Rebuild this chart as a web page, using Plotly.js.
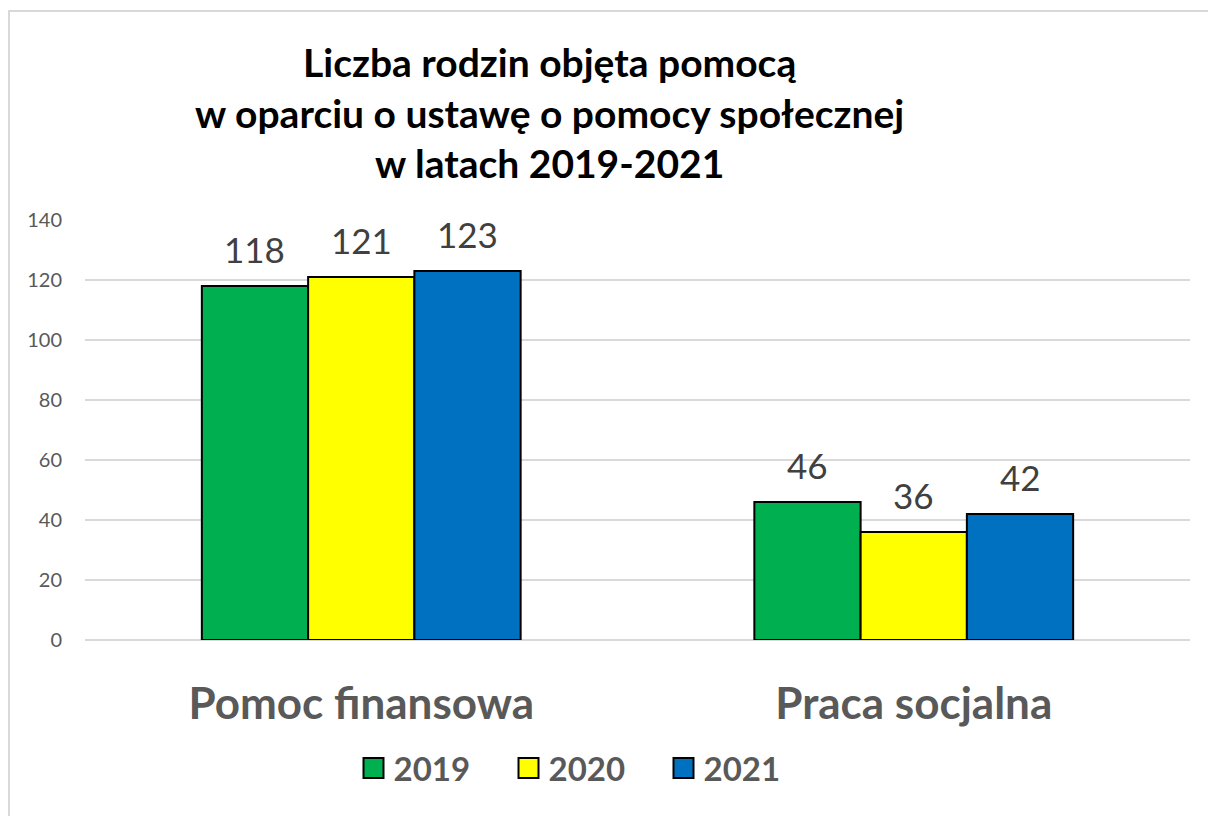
<!DOCTYPE html>
<html>
<head>
<meta charset="utf-8">
<script src="https://cdn.plot.ly/plotly-3.0.1.min.js"></script>
<style>
  html, body { margin: 0; padding: 0; background: #fff; overflow: hidden; }
  #wrap { position: relative; width: 1208px; height: 816px; overflow: hidden; }
  #chart { width: 1208px; height: 816px; }
  #frame { position: absolute; left: 8px; top: 10px; width: 1400px; height: 1000px;
           border: 2px solid #d9d9d9; pointer-events: none; box-sizing: border-box; }
</style>
</head>
<body>
<div id="wrap">
  <div id="chart"></div>
  <div id="frame"></div>
</div>
<script>
const categories = ["Pomoc finansowa", "Praca socjalna"];
const years = ["2019", "2020", "2021"];
const values2019 = [118, 46];
const values2020 = [121, 36];
const values2021 = [123, 42];
const colors = ["#00B050", "#FFFF00", "#0070C0"];
const yTicks = [0, 20, 40, 60, 80, 100, 120, 140];

const FONT = "Lato, 'Open Sans', sans-serif";
const series = [values2019, values2020, values2021];
const BARGAP = 0.423;

const traces = series.map((vals, i) => ({
  type: "bar",
  name: years[i],
  x: categories,
  y: vals,
  marker: { color: colors[i], line: { color: "#000000", width: 2 } },
  hoverinfo: "x+y+name"
}));

// value labels placed above each bar through the axis scales
const barW = (1 - BARGAP) / series.length;
const annotations = [];
series.forEach((vals, i) => {
  vals.forEach((v, j) => {
    annotations.push({
      x: j + (i - (series.length - 1) / 2) * barW,
      y: v,
      xref: "x",
      yref: "y",
      text: String(v),
      showarrow: false,
      xanchor: "center",
      yanchor: "bottom",
      yshift: 14,
      font: { family: FONT, size: 35, color: "#404040" }
    });
  });
});

const layout = {
  width: 1208,
  height: 816,
  paper_bgcolor: "#ffffff",
  plot_bgcolor: "#ffffff",
  margin: { l: 85, r: 18, t: 220, b: 176 },
  barmode: "group",
  bargap: BARGAP,
  bargroupgap: 0,
  annotations: annotations,
  title: {
    text: "<b>Liczba rodzin objęta pomocą<br>w oparciu o ustawę o pomocy społecznej<br>w latach 2019-2021</b>",
    font: { family: FONT, size: 39, color: "#000000" },
    x: 0.455,
    xanchor: "center",
    xref: "container",
    y: 1 - 77 / 816,
    yanchor: "top",
    yref: "container"
  },
  xaxis: {
    type: "category",
    showgrid: false,
    zeroline: false,
    showline: false,
    ticks: "",
    ticklabelstandoff: 34,
    tickfont: { family: FONT, size: 44, color: "#595959", weight: "bold" }
  },
  yaxis: {
    range: [0, 140],
    tickvals: yTicks,
    ticktext: yTicks.map(String),
    showgrid: true,
    gridcolor: "#d9d9d9",
    gridwidth: 1.5,
    zeroline: true,
    zerolinecolor: "#d9d9d9",
    zerolinewidth: 1.5,
    showline: false,
    ticks: "",
    ticklabelstandoff: 22,
    tickfont: { family: FONT, size: 20, color: "#595959" }
  },
  showlegend: true,
  legend: {
    orientation: "h",
    x: (586 - 85) / 1105,
    xanchor: "center",
    y: -0.305,
    yanchor: "middle",
    font: { family: FONT, size: 33, color: "#595959", weight: "bold" },
    entrywidth: 110,
    entrywidthmode: "pixels",
    traceorder: "normal"
  }
};

Plotly.newPlot("chart", traces, layout, { displayModeBar: false, responsive: false }).then(gd => {
  // enlarge legend swatches to match the reference's larger squares
  gd.querySelectorAll(".legend .legendpoints path").forEach(p => {
    p.setAttribute("d", "M10,10H-10V-10H10Z");
    p.style.strokeWidth = "2px";
  });
});
</script>
</body>
</html>
